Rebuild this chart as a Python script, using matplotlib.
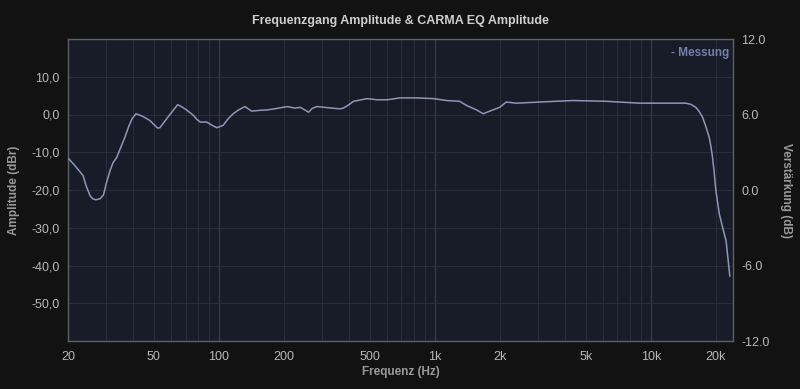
import matplotlib
matplotlib.use("Agg")
import matplotlib.pyplot as plt
from matplotlib.ticker import FixedLocator, FixedFormatter, NullFormatter
import numpy as np

freq_hz = [20.2, 21.5, 23.5, 24.3, 25.3, 26.0, 26.9, 28.2, 29.2, 30.0, 31.3, 32.3, 33.6,
           35.0, 36.7, 38.2, 39.6, 41.3, 44.4, 47.9,
           52.0, 53.3, 57.3, 61.0, 64.4, 67.5, 71.2, 76.4, 79.0, 81.9, 87.8, 92.5, 97.6,
           104.5, 110.0, 116.4, 124.0, 131.9,
           141.6, 154.7, 166.5, 185, 206.7, 225, 237.9, 250, 259.9, 270, 284.4, 320, 364,
           377, 400, 420,
           485, 539, 600, 690, 827, 986, 1135, 1301, 1400, 1560, 1674, 1795, 1995,
           2140, 2382, 3052, 4350, 6205, 8845, 12600, 14500, 15300, 16140, 16700, 17340,
           17900, 18610, 18950, 19300, 19650, 20000, 20750, 21500, 22300, 23200]
amplitude_dbr = [-11.8, -13.5, -16.2, -19.0, -21.5, -22.3, -22.6, -22.3, -21.3, -18.5,
                 -14.9, -12.8, -11.4, -8.9, -6.0, -3.2, -1.1, 0.2, -0.5, -1.6,
                 -3.6, -3.5, -1.1, 0.9, 2.6, 2.0, 1.1, -0.3, -1.3, -2.0, -2.0, -2.8, -3.5,
                 -2.9, -1.2, 0.2, 1.3, 2.1,
                 0.9, 1.1, 1.2, 1.6, 2.1, 1.7, 1.9, 1.2, 0.6, 1.6, 2.1, 1.8, 1.5,
                 1.7, 2.6, 3.5,
                 4.2, 3.9, 3.9, 4.4, 4.4, 4.2, 3.7, 3.5, 2.4, 1.2, 0.2, 0.9, 1.9,
                 3.3, 3.0, 3.3, 3.7, 3.5, 3.0, 3.0, 3.0, 2.7, 1.9, 0.9, -0.7,
                 -2.9, -6.0, -8.3, -11.4, -15.5, -20.2, -26.4, -30.0, -33.5, -42.8]

x_tick_values = [20, 50, 100, 200, 500, 1000, 2000, 5000, 10000, 20000]
x_tick_labels = ["20", "50", "100", "200", "500", "1k", "2k", "5k", "10k", "20k"]
left_tick_values = [-50, -40, -30, -20, -10, 0, 10]
left_tick_labels = ["-50,0", "-40,0", "-30,0", "-20,0", "-10,0", "0,0", "10,0"]
right_tick_values = [-12, -6, 0, 6, 12]
right_tick_labels = ["-12.0", "-6.0", "0.0", "6.0", "12.0"]

FIG_BG = "#121212"
AX_BG = "#181c28"
GRID = "#282d3a"
GRID_MAJ = "#343948"
TICK_C = "#b8b8b8"
LABEL_C = "#9a9a9a"
LINE_C = "#8e97b8"
SPINE_C = "#5e6068"

plt.rcParams['font.family'] = ['Liberation Sans', 'DejaVu Sans']

fig = plt.figure(figsize=(8.0, 3.89), dpi=100, facecolor=FIG_BG)
ax = fig.add_axes([68/800, 1 - 341/389, (733-68)/800, (341-39)/389])
ax.set_facecolor(AX_BG)
ax.set_xscale("log")
ax.set_xlim(20, 24000)
ax.set_ylim(-60, 20)

minor_grid = []
for dec in [10, 100, 1000, 10000]:
    for m in range(2, 10):
        v = dec * m
        if 20 <= v <= 24000:
            minor_grid.append(v)
for v in minor_grid:
    ax.axvline(v, color=GRID, lw=0.8, zorder=1)
for v in [100, 1000, 10000]:
    ax.axvline(v, color=GRID_MAJ, lw=1.0, zorder=1)
for v in left_tick_values:
    ax.axhline(v, color=GRID, lw=0.8, zorder=1)

ax.plot(freq_hz, amplitude_dbr, color=LINE_C, lw=1.1, zorder=3,
        solid_joinstyle="round")

ax.xaxis.set_major_locator(FixedLocator(x_tick_values))
ax.xaxis.set_major_formatter(FixedFormatter(x_tick_labels))
ax.xaxis.set_minor_formatter(NullFormatter())
ax.xaxis.set_minor_locator(FixedLocator([]))
ax.yaxis.set_major_locator(FixedLocator(left_tick_values))
ax.yaxis.set_major_formatter(FixedFormatter(left_tick_labels))
ax.tick_params(axis="both", length=0, colors=TICK_C, labelsize=9, pad=6)
ax.tick_params(axis="x", pad=7)

for s in ax.spines.values():
    s.set_color(SPINE_C)
    s.set_linewidth(1.0)

ax.set_xlabel("Frequenz (Hz)", color=LABEL_C, fontsize=8.5, fontweight="bold", labelpad=2)
ax.set_ylabel("Amplitude (dBr)", color=LABEL_C, fontsize=8.5, fontweight="bold", labelpad=8)

ax2 = ax.twinx()
ax2.set_ylim(-12, 12)
ax2.yaxis.set_major_locator(FixedLocator(right_tick_values))
ax2.yaxis.set_major_formatter(FixedFormatter(right_tick_labels))
ax2.tick_params(axis="y", length=0, colors=TICK_C, labelsize=9, pad=6)
for s in ax2.spines.values():
    s.set_visible(False)
ax2.set_ylabel("Verstärkung (dB)", color=LABEL_C, fontsize=8.5, fontweight="bold",
               rotation=-90, labelpad=16)

ax.text(0.995, 0.975, "- Messung", transform=ax.transAxes, ha="right", va="top",
        color="#7480ad", fontsize=8.5, fontweight="bold", zorder=5)

fig.text((68+733)/2/800, 1 - 21/389, "Frequenzgang Amplitude & CARMA EQ Amplitude",
         ha="center", va="center", color="#cfcfcf", fontsize=9, fontweight="bold")

fig.savefig("out.png", dpi=100, facecolor=FIG_BG)
